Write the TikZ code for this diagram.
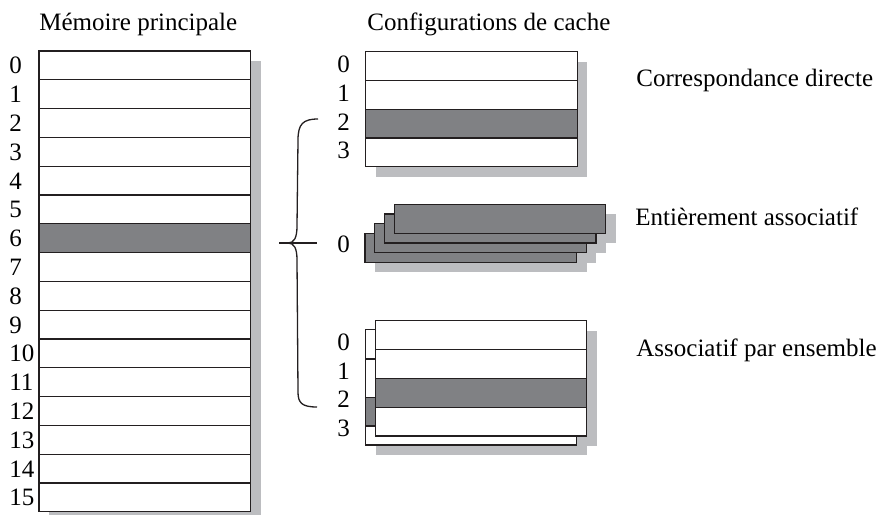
\documentclass[tikz,border=0pt]{standalone}
\usepackage{fontspec}
\setmainfont{Liberation Serif}
\usepackage{xcolor}
\usetikzlibrary{calc}

\definecolor{rowgray}{RGB}{128,129,132}
\definecolor{shadegray}{RGB}{188,189,192}
\definecolor{inkgray}{RGB}{35,31,32}

\tikzset{
	cell/.style = {draw = inkgray, line width = 0.6pt, fill = white},
	hicell/.style = {cell, fill = rowgray},
	shade/.style = {fill = shadegray, draw = none},
	lbl/.style = {inner sep = 0pt, anchor = base west, font = \fontsize{12.5}{15}\selectfont},
	brace/.style = {draw = inkgray, line width = 0.65pt}
}

\begin{document}
\begin{tikzpicture}[x = 0.5pt, y = -0.5pt]
		\def\rh{28.8};
		\def\w{211.5};
		
		\useasboundingbox (0,0) rectangle (882,514);
		\clip (0,0) rectangle (882,514);
		
		% titres
		\node [lbl] (titlemem) at (39,31) {Mémoire principale};
		\node [lbl] (titlecache) at (367,31) {Configurations de cache};
		
		% memoire principale
		\fill [shade] (49,61) rectangle ++(\w,{16*\rh});
		\foreach \i in {0,...,15} {
			\draw [cell] (39,{51+\i*\rh}) rectangle ++(\w,\rh);
			\node [lbl] (m\i) at (9,{51+\i*\rh+14.4+8.5}) {\i};
		}
		\draw [hicell] (39,{51+6*\rh}) rectangle ++(\w,\rh);
		
		% correspondance directe
		\fill [shade] (375.7,61.5) rectangle ++(\w,{4*\rh});
		\foreach \i in {0,...,3} {
			\draw [cell] (365.7,{51.5+\i*\rh}) rectangle ++(\w,\rh);
			\node [lbl] (d\i) at (337,{51.5+\i*\rh+12.4+8.5}) {\i};
		}
		\draw [hicell] (365.7,{51.5+2*\rh}) rectangle ++(\w,\rh);
		\node [lbl] (direct) at (636,86.7) {Correspondance directe};
		
		% entierement associatif
		\foreach \k in {0,...,3}
			\fill [shade] ({375+9.7*\k},{243.3-9.7*\k}) rectangle ++(\w,29);
		\foreach \k in {0,...,3}
			\draw [hicell] ({365+9.7*\k},{233.3-9.7*\k}) rectangle ++(\w,29);
		\node [lbl] (f0) at (337,252.5) {0};
		\node [lbl] (full) at (635,225.5) {Entièrement associatif};
		
		% associatif par ensemble
		\fill [shade] (375.7,339) rectangle (586.7,455);
		\fill [shade] (385.3,330.7) rectangle (596.7,445.7);
		\draw [cell] (365.7,329.3) rectangle (576.7,445);
		\draw [hicell] (365.7,397.3) rectangle (576.7,426);
		\draw [inkgray, line width = 0.6pt] (365.7,359) -- (576.7,359);
		\foreach \i in {0,...,3} {
			\draw [cell] (375.3,{320.7+\i*\rh}) rectangle ++(\w,\rh);
			\node [lbl] (s\i) at (337,{342+\i*28.7+8.5}) {\i};
		}
		\draw [hicell] (375.3,{320.7+2*\rh}) rectangle ++(\w,\rh);
		\node [lbl] (setassoc) at (636,356.7) {Associatif par ensemble};
		
		% accolade
		\coordinate (btop) at (318,119);
		\coordinate (btip) at (288,243);
		\coordinate (bbot) at (317,407);
		\coordinate (tickl) at (279,243);
		\coordinate (tickr) at (317,243);
		\draw [brace] (btop) .. controls (303,119) and (298,124) .. (298,140)
			-- (297,226) .. controls (297,238) and (294,243) .. (btip)
			.. controls (294,243) and (297,248) .. (297,260)
			-- (298,392) .. controls (298,403) and (302,407) .. (bbot);
		\draw [brace] (tickl) -- (tickr);
	\end{tikzpicture}
\end{document}
